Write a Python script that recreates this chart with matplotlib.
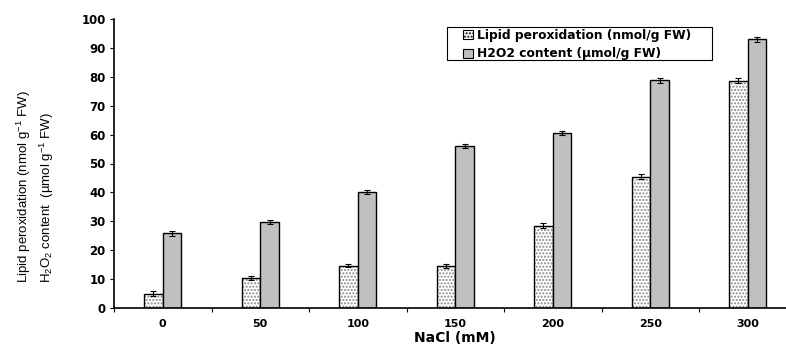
import matplotlib.pyplot as plt
import numpy as np
from matplotlib.patches import Patch, Rectangle

plt.rcParams['font.family'] = ['DejaVu Sans']
plt.rcParams['mathtext.fontset'] = 'custom'
plt.rcParams['mathtext.rm'] = 'Liberation Sans'
plt.rcParams['mathtext.it'] = 'Liberation Sans'

nacl = ['0', '50', '100', '150', '200', '250', '300']
lipid = [5.0, 10.5, 14.7, 14.5, 28.5, 45.5, 78.7]
lipid_err = [0.8, 0.7, 0.6, 0.6, 0.8, 0.8, 1.0]
h2o2 = [25.8, 29.8, 40.3, 56.0, 60.5, 78.8, 93.0]
h2o2_err = [0.8, 0.6, 0.7, 0.7, 0.8, 0.9, 0.8]

x = np.arange(len(nacl))
w = 0.19

fig = plt.figure(figsize=(7.86, 3.45), dpi=100)
ax = fig.add_axes([114 / 786, 37 / 345, 682.5 / 786, 289 / 345])

# lipid bars: stippled fill then black outline
ax.bar(x - w / 2, lipid, w, color='white', edgecolor='#888888', hatch='.....', linewidth=0)
ax.bar(x - w / 2, lipid, w, color='none', edgecolor='black', linewidth=1.0,
       yerr=lipid_err, capsize=2.5, error_kw=dict(elinewidth=0.8, capthick=0.8))
ax.bar(x + w / 2, h2o2, w, color='#c0c0c0', edgecolor='black', linewidth=1.0,
       yerr=h2o2_err, capsize=2.5, error_kw=dict(elinewidth=0.8, capthick=0.8))

# legend box drawn separately so it can be wider than the entries
fig.patches.append(Rectangle((447 / 786, (345 - 60) / 345), 265 / 786, 33 / 345,
                             transform=fig.transFigure, facecolor='white',
                             edgecolor='black', linewidth=0.8, zorder=5))
h1 = Patch(facecolor='white', edgecolor='black', hatch='.....', linewidth=0.8)
h2 = Patch(facecolor='#c0c0c0', edgecolor='black', linewidth=0.8)
leg = fig.legend([h1, h2], ['Lipid peroxidation (nmol/g FW)', 'H2O2 content (µmol/g FW)'],
                 loc='upper left', bbox_to_anchor=(463 / 786, (345 - 29) / 345),
                 frameon=False, prop={'weight': 'bold', 'size': 8.8},
                 handlelength=0.85, handleheight=0.75, handletextpad=0.3,
                 labelspacing=0.45, borderpad=0, borderaxespad=0)
leg.set_zorder(6)

ax.set_xlim(-0.5, len(nacl) - 0.5)
ax.set_ylim(0, 100)
ax.set_yticks(range(0, 101, 10))
ax.set_xticks(x)
ax.set_xticklabels(nacl)
ax.set_xticks(np.arange(-0.5, len(nacl), 1), minor=True)
ax.tick_params(axis='x', which='major', length=0, pad=8)
ax.tick_params(axis='x', which='minor', length=3, width=0.8, direction='out')
ax.tick_params(axis='y', length=3, width=0.8, direction='out', pad=3)
for lab in ax.get_xticklabels():
    lab.set_fontweight('bold')
    lab.set_fontsize(8)
for lab in ax.get_yticklabels():
    lab.set_fontweight('bold')
    lab.set_fontsize(8.5)

ax.spines['top'].set_visible(False)
ax.spines['right'].set_visible(False)
ax.spines['left'].set_linewidth(1.2)
ax.spines['bottom'].set_linewidth(1.2)

fig.text(455 / 786, (345 - 338) / 345, 'NaCl (mM)', ha='center', va='center',
         fontsize=10, fontweight='bold')
fig.text(24 / 786, (345 - 283) / 345, 'Lipid peroxidation (nmol g$^{-1}$ FW)', rotation=90,
         ha='center', va='bottom', fontsize=9.5, family='Liberation Sans')
fig.text(47 / 786, (345 - 283) / 345, 'H$_2$O$_2$ content  (µmol g$^{-1}$ FW)', rotation=90,
         ha='center', va='bottom', fontsize=9.5, family='Liberation Sans')

fig.savefig('out.png', dpi=100)
